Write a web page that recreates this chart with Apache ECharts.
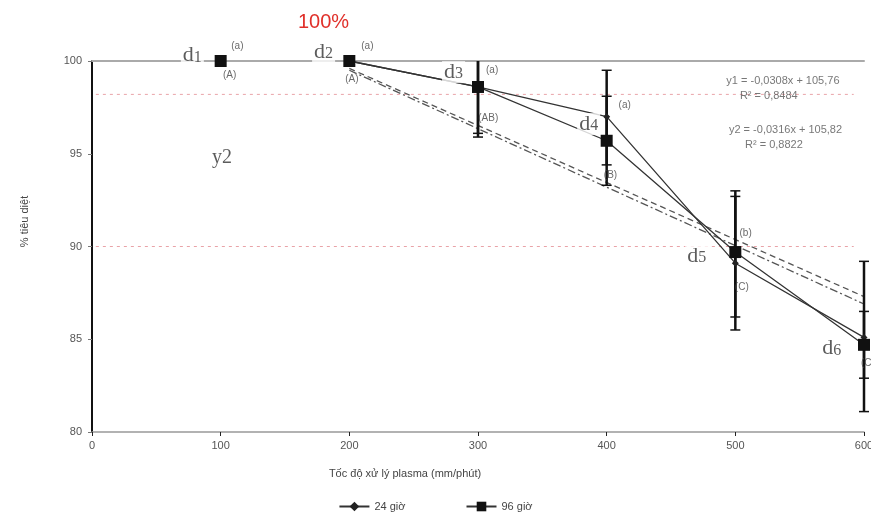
<!DOCTYPE html>
<html>
<head>
<meta charset="utf-8">
<script src="https://cdn.jsdelivr.net/npm/echarts@6/dist/echarts.min.js"></script>
<style>
  html,body{margin:0;padding:0;background:#fff;}
  #chart{width:871px;height:523px;}
</style>
</head>
<body>
<div id="chart"></div>
<script>
// values
const speeds = [100, 200, 300, 400, 500, 600];
const kill24 = [100, 100, 98.6, 97.0, 89.1, 85.1];
const kill96 = [100, 100, 98.6, 95.7, 89.7, 84.7];
const low24  = [100, 100, 96.1, 94.4, 85.5, 81.1];
const high24 = [100, 100, 101.1, 99.5, 92.7, 89.2];
const low96  = [100, 100, 95.9, 93.3, 86.2, 82.9];
const high96 = [100, 100, 101.3, 98.1, 93.0, 86.5];

// trend lines (ends of y1 = -0,0308x + 105,76 and y2 = -0,0316x + 105,82)
const trend1 = [[200, 99.6], [600, 87.3]];
const trend2 = [[200, 99.5], [600, 86.9]];

// pink reference lines
const refLevels = [98.2, 90];

// annotations [x, y, text]
const doseNotes = [[78, 100.3, '1'], [180, 100.5, '2'], [281, 99.4, '3'], [386, 96.6, '4'], [470, 89.5, '5'], [575, 84.5, '6']];
const letterNotes = [
  [113, 100.8, '(a)'], [107, 99.25, '(A)'],
  [214, 100.8, '(a)'], [202, 99.0, '(A)'],
  [311, 99.5, '(a)'], [308, 96.9, '(AB)'],
  [414, 97.6, '(a)'], [403, 93.85, '(B)'],
  [508, 90.7, '(b)'], [505, 87.8, '(C)'],
  [603, 83.7, '(C)']
];
const eqNotes = [
  [537, 98.9, 'y1 = -0,0308x + 105,76'], [526, 98.1, 'R² = 0,8484'],
  [539, 96.3, 'y2 = -0,0316x + 105,82'], [530, 95.5, 'R² = 0,8822']
];

let errorBars = function (lows, highs) {
    return speeds.map((s, i) => [s, lows[i], highs[i]]);
};

// points joined by the line; the stretch lying on the top frame (100 -> 100) is
// hidden by the frame in the original, so break the line there
let linePoints = function (vals) {
    let out = [];
    speeds.forEach((s, i) => {
        if (i > 0 && vals[i] >= 100 && vals[i - 1] >= 100) out.push('-');
        out.push([s, vals[i]]);
    });
    return out;
};

let renderError = function (params, api) {
    let x = api.value(0), lo = api.value(1), hi = api.value(2);
    if (hi - lo < 0.01) return null;
    let clipped = hi > 100;
    let top = api.coord([x, Math.min(hi, 100)]);
    let bot = api.coord([x, lo]);
    let w = 5;
    let kids = [
        {type: 'line', shape: {x1: top[0], y1: top[1], x2: bot[0], y2: bot[1]}, style: {stroke: '#111', lineWidth: 2.5}},
        {type: 'line', shape: {x1: bot[0] - w, y1: bot[1], x2: bot[0] + w, y2: bot[1]}, style: {stroke: '#111', lineWidth: 1.5}}
    ];
    if (!clipped) {
        kids.push({type: 'line', shape: {x1: top[0] - w, y1: top[1], x2: top[0] + w, y2: top[1]}, style: {stroke: '#111', lineWidth: 1.5}});
    }
    return {type: 'group', children: kids};
};

let noteSeries = function (data, label) {
    return {
        type: 'scatter', symbolSize: 0, clip: false, silent: true, z: 6,
        data: data,
        label: Object.assign({show: true, position: 'inside', formatter: p => p.data[2]}, label)
    };
};

let myChart = echarts.init(document.getElementById('chart'));
let option = {
    animation: false,
    title: {
        text: '100%', left: 293, top: 7,
        textStyle: {color: '#e0302a', fontSize: 20, fontWeight: 'normal', fontFamily: 'Liberation Sans'}
    },
    legend: {
        data: ['24 giờ', '96 giờ'],
        bottom: 6, left: 'center',
        itemWidth: 30, itemHeight: 12, itemGap: 60,
        textStyle: {color: '#444', fontSize: 11, fontFamily: 'Liberation Sans'}
    },
    grid: {left: 92, right: 7, top: 61, bottom: 91, outerBoundsMode: 'none', containLabel: false},
    xAxis: [{
        type: 'value', min: 0, max: 600, interval: 100,
        name: 'Tốc độ xử lý plasma (mm/phút)', nameLocation: 'middle', nameGap: 36,
        nameTextStyle: {color: '#444', fontSize: 11, fontFamily: 'Liberation Sans', padding: [0, 146, 0, 0]},
        axisLine: {lineStyle: {color: '#999', width: 1.5}},
        axisTick: {length: 4, lineStyle: {color: '#222'}},
        axisLabel: {color: '#555', fontSize: 11, fontFamily: 'Liberation Sans', margin: 8},
        splitLine: {show: false}
    }, {
        type: 'value', min: 0, max: 600, position: 'top',
        axisLine: {lineStyle: {color: '#aaa', width: 2}},
        axisTick: {show: false}, axisLabel: {show: false}, splitLine: {show: false}
    }],
    yAxis: [{
        type: 'value', min: 80, max: 100, interval: 5,
        name: '% tiêu diệt', nameLocation: 'middle', nameGap: 62,
        nameTextStyle: {color: '#444', fontSize: 11, fontFamily: 'Liberation Sans', padding: [0, 0, 0, 50]},
        axisLine: {show: true, lineStyle: {color: '#111', width: 2}},
        axisTick: {show: true, length: 4, lineStyle: {color: '#777'}},
        axisLabel: {color: '#555', fontSize: 11, fontFamily: 'Liberation Sans', margin: 10},
        splitLine: {show: false}
    }, {
        type: 'value', min: 80, max: 100, position: 'right',
        axisLine: {show: true, lineStyle: {color: '#111', width: 2}},
        axisTick: {show: false}, axisLabel: {show: false}, splitLine: {show: false}
    }],
    series: [
        {
            name: 'ref1', type: 'line', silent: true, symbol: 'none', z: 1,
            data: [[3, refLevels[0]], [592, refLevels[0]]],
            lineStyle: {color: '#e9a3a8', width: 1, type: [3, 4]}
        },
        {
            name: 'ref2', type: 'line', silent: true, symbol: 'none', z: 1,
            data: [[3, refLevels[1]], [592, refLevels[1]]],
            lineStyle: {color: '#e9a3a8', width: 1, type: [3, 4]}
        },
        {
            name: 'trend1', type: 'line', silent: true, symbol: 'none', z: 1,
            data: trend1, lineStyle: {color: '#555', width: 1.3, type: [6, 4]}
        },
        {
            name: 'trend2', type: 'line', silent: true, symbol: 'none', z: 1,
            data: trend2, lineStyle: {color: '#555', width: 1.3, type: [8, 3, 2, 3]}
        },
        {
            name: 'err24', type: 'custom', renderItem: renderError, z: 3,
            data: errorBars(low24, high24)
        },
        {
            name: 'err96', type: 'custom', renderItem: renderError, z: 3,
            data: errorBars(low96, high96)
        },
        {
            name: '24 giờ', type: 'line', z: 4,
            data: linePoints(kill24), connectNulls: false,
            symbol: 'diamond', symbolSize: 7,
            itemStyle: {color: '#222'},
            lineStyle: {color: '#333', width: 1.3}
        },
        {
            name: '96 giờ', type: 'line', z: 5,
            data: linePoints(kill96), connectNulls: false,
            symbol: 'rect', symbolSize: 12,
            itemStyle: {color: '#111'},
            lineStyle: {color: '#333', width: 1.3}
        },
        noteSeries(doseNotes, {
            formatter: p => '{d|d}{n|' + p.data[2] + '}',
            rich: {
                d: {fontSize: 22, fontFamily: 'Liberation Serif', color: '#333'},
                n: {fontSize: 16, fontFamily: 'Liberation Serif', color: '#333', padding: [4, 0, 0, 0]}
            },
            backgroundColor: '#fff', padding: [0, 2]
        }),
        noteSeries([[101, 94.8, 'y2']], {
            fontSize: 20, fontFamily: 'Liberation Serif', color: '#333'
        }),
        noteSeries(letterNotes, {
            fontSize: 10, fontFamily: 'Liberation Sans', color: '#444'
        }),
        noteSeries(eqNotes, {
            fontSize: 11, fontFamily: 'Liberation Sans', color: '#555'
        })
    ]
};
myChart.setOption(option);
</script>
</body>
</html>
